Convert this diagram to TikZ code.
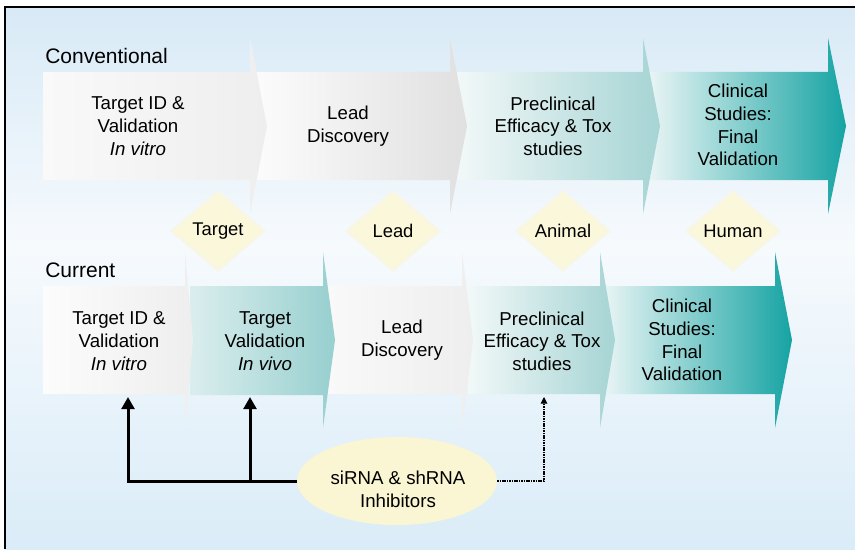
\documentclass[tikz,border=0pt]{standalone}
\usepackage{fontspec}
\setmainfont{Liberation Sans}
\usetikzlibrary{arrows.meta,shapes.geometric}
\definecolor{bgblue}{RGB}{216,234,246}
\definecolor{bgwhite}{RGB}{246,250,253}
\definecolor{bgblueb}{RGB}{218,236,248}
\definecolor{tealD}{RGB}{22,163,163}
\definecolor{tealM}{RGB}{166,212,212}
\definecolor{tealP}{RGB}{232,244,244}
\definecolor{tealQ}{RGB}{242,248,248}
\definecolor{greyA}{RGB}{249,249,249}
\definecolor{greyB}{RGB}{238,238,238}
\definecolor{greyC}{RGB}{224,224,224}
\definecolor{diafill}{RGB}{251,247,218}
\definecolor{diaedge}{RGB}{248,246,228}
\definecolor{ellfill}{RGB}{250,245,210}
\newcommand{\chevshape}[6]{%
  \path[left color=#5,right color=#6]
    (#1,#4-54) -- (#2,#4-54) -- (#2,#4-88) -- (#3,#4) -- (#2,#4+88)
    -- (#2,#4+54) -- (#1,#4+54) -- cycle;}
\begin{document}
\begin{tikzpicture}[x=0.75pt,y=-0.75pt,
  txt/.style={align=center,font=\fontsize{14}{17}\selectfont,inner sep=0pt},
  lbl/.style={anchor=west,font=\fontsize{15.75}{18}\selectfont,inner sep=0pt},
  gate/.style={diamond,fill=diafill,draw=diaedge,line width=2pt,minimum width=70pt,minimum height=59.5pt,inner sep=0pt,
    font=\fontsize{13.8}{16}\selectfont},
  thickconn/.style={line width=2.25pt,line join=miter,-{Triangle[length=9pt,width=9.5pt]}},
  dotconn/.style={line width=0.8pt,dash pattern=on 1.1pt off 0.7pt,-{Triangle[length=5pt,width=5pt]}}]
\clip (0,0) rectangle (855,549);
% background
\shade[top color=bgblue,bottom color=bgwhite] (5,7) rectangle (855,246);
\shade[top color=bgwhite,bottom color=bgblueb] (5,245) rectangle (855,549);
\draw[line width=1.3pt] (5,549) -- (5,7) -- (855,7);
% conventional row (drawn right to left)
\chevshape{650}{828}{846}{126}{tealP}{tealD}
\chevshape{457}{643}{660}{126}{tealQ}{tealM}
\chevshape{257}{450}{467}{126}{greyA!60!white}{greyC}
\chevshape{43}{250}{267}{126}{greyA}{greyB}
% current row
\chevshape{605}{775}{792}{340}{tealP}{tealD}
\chevshape{468}{600}{615}{340}{tealQ}{tealM}
\chevshape{328}{462}{473}{340}{greyA}{greyB}
\path[left color=tealP!80!tealM,middle color=tealQ,right color=tealM!90!tealD]
  (190,286) -- (323,286) -- (323,252) -- (335,340) -- (323,428) -- (323,395) -- (190,395) -- cycle;
\chevshape{43}{185}{193}{340}{greyA!50!white}{greyB}
% row labels
\node[lbl] (conv) at (45,56) {Conventional};
\node[lbl] (curr) at (45,270) {Current};
% conventional texts
\node[txt] (c1) at (138,126) {Target ID \&\\Validation\\\textit{In vitro}};
\node[txt] (c2) at (348,126) {Lead\\Discovery};
\node[txt] (c3) at (553,126) {Preclinical\\Efficacy \& Tox\\studies};
\node[txt] (c4) at (738,125) {Clinical\\Studies:\\Final\\Validation};
% current texts
\node[txt] (n1) at (119,341) {Target ID \&\\Validation\\\textit{In vitro}};
\node[txt] (n2) at (265,341) {Target\\Validation\\\textit{In vivo}};
\node[txt] (n3) at (402,340) {Lead\\Discovery};
\node[txt] (n4) at (542,341) {Preclinical\\Efficacy \& Tox\\studies};
\node[txt] (n5) at (682,340) {Clinical\\Studies:\\Final\\Validation};
% gates
\node[gate] (g1) at (218,231) {Target};
\node[gate] (g2) at (393,231) {Lead};
\node[gate] (g3) at (563,231) {Animal};
\node[gate] (g4) at (733,231) {Human};
% inhibitors
\node[ellipse,fill=ellfill,minimum width=150pt,minimum height=66pt,inner sep=0pt] (inh) at (397,481) {};
\node[txt] (inhtxt) at (398,489) {siRNA \& shRNA\\Inhibitors};
% connectors
\coordinate (b1) at (128,397);
\coordinate (b2) at (250,397);
\coordinate (b4) at (544,397);
\draw[thickconn] (inh.west) -| (b1);
\draw[thickconn] (inh.west -| b2) -- (b2);
\draw[dotconn] (inh.east) -| (b4);
\end{tikzpicture}
\end{document}
